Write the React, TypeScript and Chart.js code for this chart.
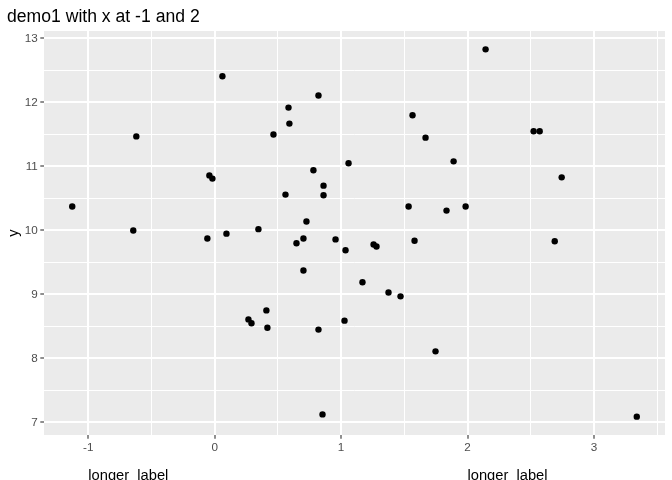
import React, { useEffect, useRef } from "react";
import { Chart, registerables } from "chart.js";

Chart.register(...registerables);

const chartTitle = "demo1 with x at -1 and 2";
const yTitle = "y";

const xValues = [
  -1.127, -0.62, -0.644, 0.061, -0.042, -0.018, -0.058, 0.093, 0.346, 0.56,
  0.465, 0.584, 0.591, 0.821, 0.781, 0.861, 0.861, 0.726, 0.702, 0.647,
  0.702, 0.956, 1.035, 1.059, 1.257, 1.28, 1.169, 1.375, 1.47, 0.409,
  0.267, 0.291, 0.417, 0.821, 1.027, 0.853, 1.89, 1.534, 1.834, 1.985,
  1.581, 1.747, 2.143, 1.565, 1.668, 2.523, 2.571, 2.745, 2.69, 3.339,
];
const yValues = [
  10.375, 11.47, 10.0, 12.41, 10.86, 10.81, 9.875, 9.95, 10.02, 10.56,
  11.5, 11.92, 11.67, 12.11, 10.94, 10.7, 10.55, 10.14, 9.875, 9.8,
  9.375, 9.86, 9.69, 11.05, 9.78, 9.75, 9.19, 9.03, 8.97, 8.75,
  8.61, 8.55, 8.48, 8.45, 8.59, 7.125, 11.08, 10.375, 10.31, 10.375,
  9.84, 8.11, 12.83, 11.8, 11.45, 11.55, 11.55, 10.83, 9.83, 7.09,
];

const xMajorTicks = [-1, 0, 1, 2, 3];
const xMinorTicks = [-0.5, 0.5, 1.5, 2.5, 3.5];
const yMajorTicks = [7, 8, 9, 10, 11, 12, 13];
const yMinorTicks = [7.5, 8.5, 9.5, 10.5, 11.5, 12.5];

const annotationX = [-1, 2];
const annotationText = "longer_label";

const FONT = "'Liberation Sans', Arial, Helvetica, sans-serif";

function expandRange(vals: number[]) {
  const mn = Math.min(...vals);
  const mx = Math.max(...vals);
  const pad = (mx - mn) * 0.05;
  return [mn - pad, mx + pad];
}

export default function App() {
  const ref = useRef<HTMLCanvasElement | null>(null);

  useEffect(() => {
    if (!ref.current) return;
    const [xMin, xMax] = expandRange(xValues);
    const [yMin, yMax] = expandRange(yValues);
    const isMajor = (v: number, majors: number[]) =>
      majors.some((m) => Math.abs(m - v) < 1e-9);

    const decor = {
      id: "decor",
      beforeDraw(chart: any) {
        const { ctx, chartArea: a } = chart;
        ctx.save();
        ctx.fillStyle = "#EBEBEB";
        ctx.fillRect(a.left, a.top, a.right - a.left, a.bottom - a.top);
        ctx.restore();
      },
      afterDraw(chart: any) {
        const { ctx, chartArea: a } = chart;
        ctx.save();
        ctx.fillStyle = "#000000";
        ctx.textAlign = "left";
        ctx.textBaseline = "alphabetic";
        ctx.font = `17.6px ${FONT}`;
        ctx.fillText(chartTitle, 7, 22);

        ctx.font = `14.7px ${FONT}`;
        ctx.save();
        ctx.translate(18, (a.top + a.bottom) / 2);
        ctx.rotate(-Math.PI / 2);
        ctx.textAlign = "center";
        ctx.fillText(yTitle, 0, 0);
        ctx.restore();

        ctx.textAlign = "left";
        annotationX.forEach((v) => {
          const px = chart.scales.x.getPixelForValue(v);
          ctx.fillText(annotationText, px, 480);
        });
        ctx.restore();
      },
    };

    const chart = new Chart(ref.current, {
      type: "scatter",
      data: {
        datasets: [
          {
            data: xValues.map((x, i) => ({ x, y: yValues[i] })),
            backgroundColor: "#000000",
            borderWidth: 0,
            pointRadius: 3.2,
            pointHoverRadius: 3.2,
          },
        ],
      },
      options: {
        animation: false,
        responsive: false,
        devicePixelRatio: 1,
        layout: { padding: { top: 31, right: 7, left: 0, bottom: 0 } },
        plugins: {
          legend: { display: false },
          tooltip: { enabled: false },
          title: { display: false },
        },
        scales: {
          x: {
            type: "linear",
            min: xMin,
            max: xMax,
            afterBuildTicks: (scale: any) => {
              scale.ticks = [...xMajorTicks, ...xMinorTicks]
                .sort((p, q) => p - q)
                .map((v) => ({ value: v }));
            },
            afterFit: (scale: any) => {
              scale.height = 45;
            },
            border: { display: false },
            grid: {
              color: "#FFFFFF",
              lineWidth: (c: any) =>
                isMajor(c.tick?.value, xMajorTicks) ? 2 : 1,
              drawTicks: true,
              tickLength: 3.7,
              tickWidth: 1.1,
              tickColor: (c: any) =>
                isMajor(c.tick?.value, xMajorTicks) ? "#333333" : "rgba(0,0,0,0)",
            },
            ticks: {
              autoSkip: false,
              maxRotation: 0,
              padding: 2,
              color: "#4D4D4D",
              font: { family: FONT, size: 11.7 },
              callback: (v: any) =>
                isMajor(Number(v), xMajorTicks) ? String(v) : "",
            },
          },
          y: {
            type: "linear",
            min: yMin,
            max: yMax,
            afterBuildTicks: (scale: any) => {
              scale.ticks = [...yMajorTicks, ...yMinorTicks]
                .sort((p, q) => p - q)
                .map((v) => ({ value: v }));
            },
            afterFit: (scale: any) => {
              scale.width = 44;
            },
            border: { display: false },
            grid: {
              color: "#FFFFFF",
              lineWidth: (c: any) =>
                isMajor(c.tick?.value, yMajorTicks) ? 2 : 1,
              drawTicks: true,
              tickLength: 3.7,
              tickWidth: 1.1,
              tickColor: (c: any) =>
                isMajor(c.tick?.value, yMajorTicks) ? "#333333" : "rgba(0,0,0,0)",
            },
            ticks: {
              autoSkip: false,
              padding: 2.5,
              color: "#4D4D4D",
              font: { family: FONT, size: 11.7 },
              callback: (v: any) =>
                isMajor(Number(v), yMajorTicks) ? String(v) : "",
            },
          },
        },
      },
      plugins: [decor],
    });

    return () => chart.destroy();
  }, []);

  return (
    <div style={{ position: "fixed", left: 0, top: 0, width: 672, height: 480 }}>
      <canvas ref={ref} width={672} height={480} style={{ display: "block" }} />
    </div>
  );
}
